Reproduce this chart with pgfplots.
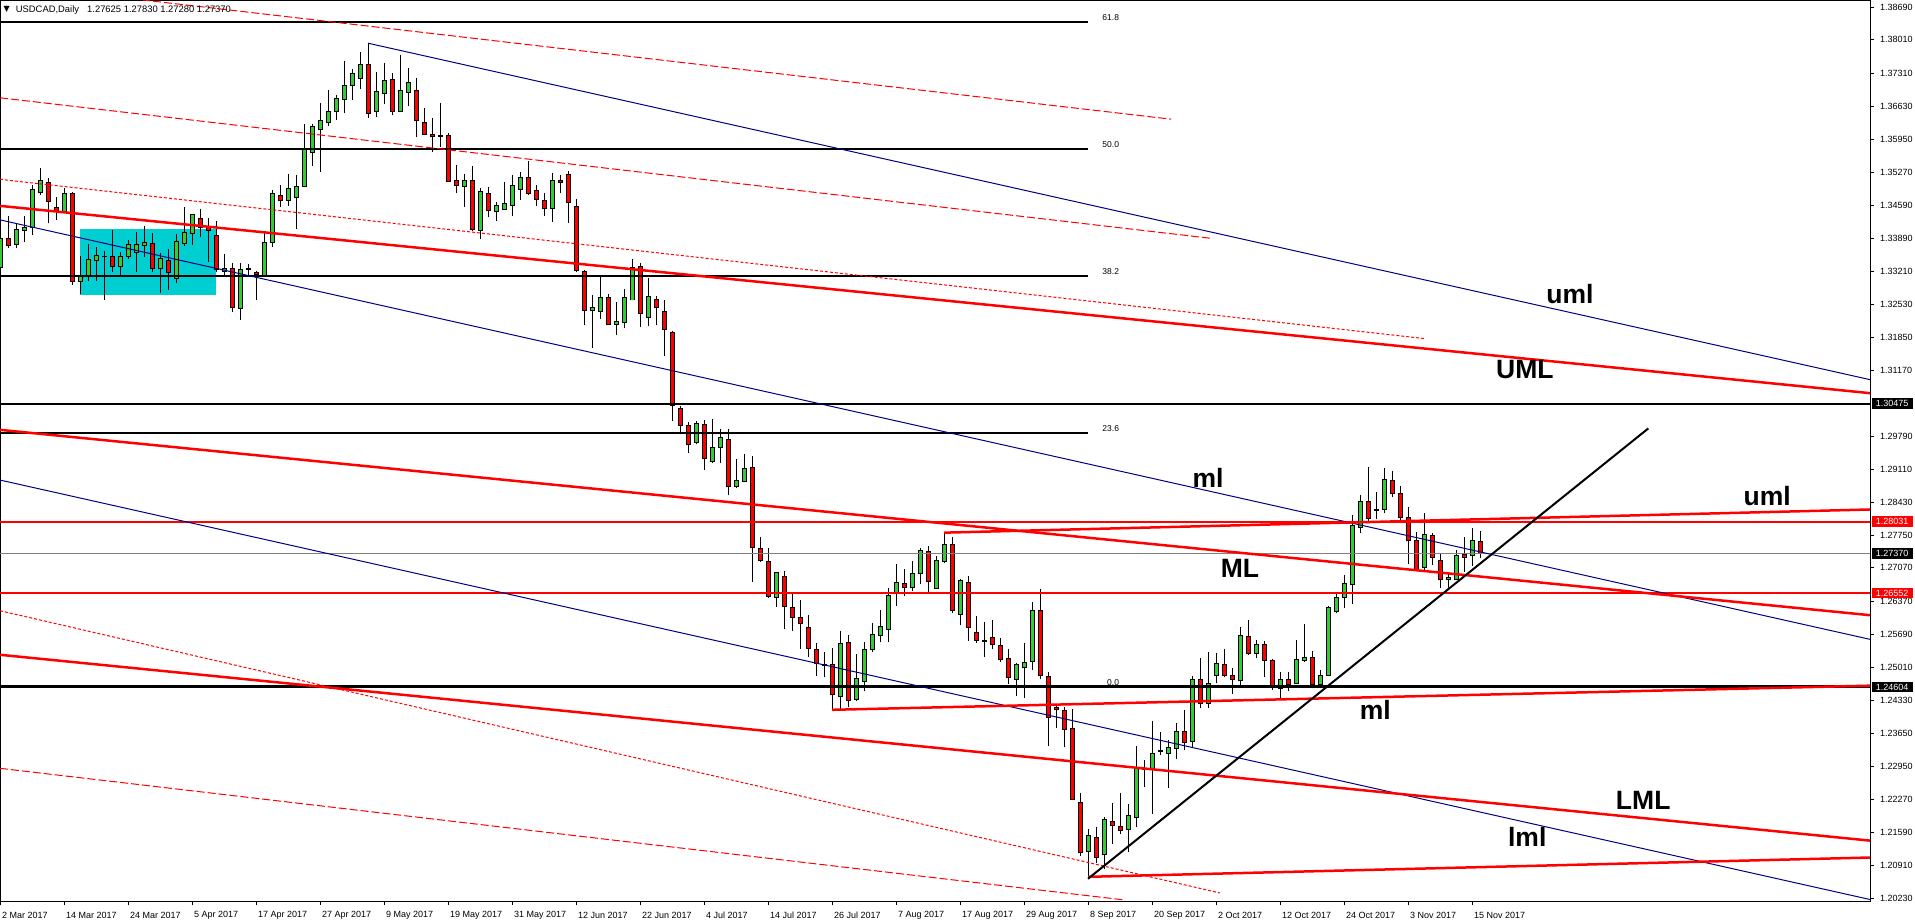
\documentclass[border=0pt]{standalone}
\usepackage{fontspec}
\setmainfont{Liberation Sans}
\newfontfamily\dejavu{DejaVu Sans}
\usepackage{pgfplots}
\usepackage{pgfplotstable}
\pgfplotsset{compat=1.18}
\definecolor{cgreen}{RGB}{50,205,50}
\definecolor{cred}{RGB}{255,0,0}
\definecolor{cnavy}{RGB}{0,0,128}
\definecolor{ccyan}{RGB}{0,206,209}
\definecolor{cgray}{RGB}{128,128,128}

\pgfplotstableread{
x o h l c
0 1.3329 1.3404 1.3326 1.3390
2 1.3377 1.3419 1.3369 1.3408
3 1.3406 1.3436 1.3383 1.3413
4 1.3413 1.3500 1.3397 1.3491
5 1.3484 1.3535 1.3480 1.3510
8 1.3446 1.3495 1.3445 1.3482
10 1.3301 1.3353 1.3274 1.3313
11 1.3312 1.3377 1.3302 1.3345
12 1.3344 1.3371 1.3302 1.3355
15 1.3331 1.3362 1.3314 1.3353
16 1.3352 1.3386 1.3346 1.3377
17 1.3361 1.3402 1.3321 1.3377
18 1.3375 1.3415 1.3352 1.3381
20 1.3328 1.3359 1.3277 1.3347
22 1.3307 1.3399 1.3297 1.3384
23 1.3379 1.3454 1.3373 1.3402
24 1.3400 1.3440 1.3376 1.3439
28 1.3322 1.3357 1.3310 1.3328
30 1.3245 1.3338 1.3221 1.3326
33 1.3312 1.3400 1.3310 1.3381
34 1.3381 1.3489 1.3372 1.3483
36 1.3468 1.3524 1.3457 1.3493
37 1.3475 1.3521 1.3410 1.3497
38 1.3497 1.3627 1.3496 1.3573
39 1.3568 1.3627 1.3540 1.3622
40 1.3616 1.3671 1.3528 1.3634
41 1.3630 1.3697 1.3622 1.3653
42 1.3653 1.3687 1.3635 1.3680
43 1.3678 1.3757 1.3649 1.3707
44 1.3707 1.3740 1.3676 1.3732
45 1.3721 1.3775 1.3700 1.3750
47 1.3653 1.3734 1.3642 1.3693
48 1.3690 1.3752 1.3668 1.3717
50 1.3653 1.3769 1.3652 1.3696
51 1.3692 1.3742 1.3664 1.3712
58 1.3497 1.3524 1.3455 1.3510
60 1.3406 1.3495 1.3388 1.3487
62 1.3445 1.3466 1.3426 1.3457
63 1.3450 1.3506 1.3449 1.3461
64 1.3457 1.3521 1.3435 1.3500
65 1.3491 1.3528 1.3469 1.3516
69 1.3451 1.3526 1.3424 1.3510
74 1.3241 1.3272 1.3163 1.3247
75 1.3238 1.3310 1.3223 1.3268
77 1.3211 1.3258 1.3190 1.3218
78 1.3215 1.3285 1.3203 1.3268
79 1.3262 1.3347 1.3261 1.3330
81 1.3226 1.3308 1.3208 1.3270
87 1.2967 1.3011 1.2963 1.3006
89 1.2928 1.3015 1.2924 1.2957
90 1.2957 1.2994 1.2924 1.2977
92 1.2876 1.2932 1.2872 1.2888
93 1.2886 1.2943 1.2884 1.2913
97 1.2646 1.2699 1.2627 1.2697
105 1.2441 1.2576 1.2414 1.2551
107 1.2435 1.2529 1.2432 1.2478
108 1.2472 1.2553 1.2451 1.2538
109 1.2538 1.2592 1.2532 1.2569
110 1.2567 1.2619 1.2553 1.2586
111 1.2580 1.2666 1.2554 1.2650
112 1.2654 1.2715 1.2629 1.2677
114 1.2667 1.2721 1.2659 1.2696
115 1.2696 1.2748 1.2673 1.2743
117 1.2665 1.2732 1.2665 1.2723
118 1.2721 1.2780 1.2718 1.2756
120 1.2611 1.2685 1.2588 1.2681
127 1.2476 1.2509 1.2442 1.2507
128 1.2500 1.2551 1.2438 1.2511
129 1.2513 1.2636 1.2495 1.2619
136 1.2120 1.2167 1.2063 1.2152
138 1.2113 1.2190 1.2083 1.2185
141 1.2165 1.2218 1.2119 1.2194
142 1.2190 1.2337 1.2170 1.2292
144 1.2290 1.2390 1.2198 1.2323
146 1.2323 1.2350 1.2252 1.2335
147 1.2333 1.2385 1.2312 1.2368
149 1.2347 1.2483 1.2333 1.2476
151 1.2426 1.2533 1.2416 1.2468
152 1.2484 1.2530 1.2468 1.2509
155 1.2473 1.2584 1.2461 1.2567
157 1.2530 1.2558 1.2520 1.2549
160 1.2458 1.2491 1.2433 1.2475
162 1.2468 1.2558 1.2468 1.2518
163 1.2516 1.2591 1.2513 1.2522
165 1.2466 1.2496 1.2458 1.2484
166 1.2484 1.2629 1.2484 1.2625
167 1.2616 1.2653 1.2613 1.2646
168 1.2646 1.2692 1.2623 1.2675
169 1.2673 1.2817 1.2632 1.2795
170 1.2791 1.2858 1.2780 1.2845
173 1.2828 1.2913 1.2821 1.2891
178 1.2708 1.2821 1.2703 1.2777
181 1.2683 1.2696 1.2665 1.2688
182 1.2682 1.2744 1.2682 1.2732
184 1.2732 1.2789 1.2711 1.2764
}\tbull

\pgfplotstableread{
x o h l c
1 1.3390 1.3436 1.3370 1.3374
6 1.3506 1.3515 1.3421 1.3466
7 1.3454 1.3475 1.3428 1.3446
9 1.3482 1.3485 1.3294 1.3300
14 1.3353 1.3408 1.3319 1.3331
19 1.3379 1.3400 1.3321 1.3328
21 1.3344 1.3367 1.3283 1.3319
25 1.3431 1.3451 1.3393 1.3412
26 1.3413 1.3431 1.3341 1.3406
27 1.3396 1.3426 1.3321 1.3326
29 1.3328 1.3338 1.3238 1.3247
32 1.3319 1.3323 1.3261 1.3314
35 1.3479 1.3500 1.3455 1.3468
46 1.3750 1.3794 1.3640 1.3649
49 1.3719 1.3732 1.3645 1.3653
52 1.3696 1.3721 1.3600 1.3634
53 1.3630 1.3660 1.3604 1.3605
54 1.3605 1.3640 1.3569 1.3600
56 1.3603 1.3609 1.3507 1.3508
57 1.3510 1.3542 1.3484 1.3500
59 1.3510 1.3540 1.3404 1.3408
61 1.3483 1.3497 1.3433 1.3448
66 1.3516 1.3549 1.3480 1.3482
67 1.3489 1.3500 1.3457 1.3471
68 1.3469 1.3483 1.3436 1.3451
70 1.3510 1.3521 1.3484 1.3506
71 1.3522 1.3529 1.3422 1.3464
72 1.3456 1.3471 1.3319 1.3323
73 1.3321 1.3324 1.3210 1.3241
76 1.3268 1.3274 1.3210 1.3212
80 1.3332 1.3339 1.3207 1.3234
82 1.3263 1.3270 1.3210 1.3247
83 1.3239 1.3262 1.3146 1.3201
84 1.3194 1.3197 1.3012 1.3043
85 1.3038 1.3043 1.2984 1.3002
86 1.3002 1.3009 1.2946 1.2963
88 1.3004 1.3013 1.2910 1.2934
91 1.2973 1.2994 1.2858 1.2875
94 1.2915 1.2939 1.2678 1.2750
95 1.2748 1.2770 1.2720 1.2723
96 1.2721 1.2748 1.2644 1.2648
98 1.2690 1.2701 1.2580 1.2627
99 1.2625 1.2653 1.2577 1.2605
100 1.2605 1.2640 1.2540 1.2591
101 1.2584 1.2609 1.2522 1.2540
102 1.2538 1.2551 1.2484 1.2509
104 1.2507 1.2542 1.2414 1.2444
106 1.2553 1.2568 1.2418 1.2433
113 1.2675 1.2705 1.2649 1.2667
116 1.2741 1.2752 1.2652 1.2679
119 1.2756 1.2772 1.2613 1.2619
121 1.2677 1.2690 1.2556 1.2584
122 1.2574 1.2607 1.2552 1.2556
124 1.2563 1.2599 1.2540 1.2549
125 1.2547 1.2561 1.2513 1.2518
126 1.2519 1.2540 1.2466 1.2480
130 1.2619 1.2663 1.2476 1.2484
131 1.2482 1.2491 1.2339 1.2397
132 1.2418 1.2426 1.2375 1.2413
133 1.2412 1.2418 1.2335 1.2373
134 1.2375 1.2414 1.2226 1.2228
135 1.2221 1.2240 1.2110 1.2118
137 1.2149 1.2170 1.2096 1.2107
139 1.2182 1.2219 1.2135 1.2174
140 1.2172 1.2240 1.2156 1.2163
148 1.2368 1.2413 1.2330 1.2346
150 1.2476 1.2520 1.2416 1.2426
153 1.2507 1.2538 1.2480 1.2484
154 1.2485 1.2499 1.2446 1.2476
156 1.2565 1.2599 1.2527 1.2529
158 1.2549 1.2556 1.2482 1.2516
159 1.2516 1.2518 1.2455 1.2461
161 1.2475 1.2491 1.2451 1.2466
164 1.2522 1.2535 1.2458 1.2466
171 1.2845 1.2915 1.2803 1.2809
174 1.2888 1.2908 1.2853 1.2862
175 1.2862 1.2877 1.2799 1.2812
176 1.2812 1.2834 1.2715 1.2763
177 1.2763 1.2782 1.2703 1.2704
179 1.2774 1.2779 1.2714 1.2728
180 1.2722 1.2737 1.2666 1.2682
183 1.2734 1.2772 1.2699 1.2729
185 1.27625 1.27830 1.27280 1.27370
}\tbear

\pgfplotstableread{
x o h l c
13 1.3352 1.3364 1.3263 1.3353
31 1.3327 1.3337 1.3312 1.3326
55 1.3602 1.3670 1.3580 1.3601
103 1.2507 1.2533 1.2480 1.2505
123 1.2556 1.2594 1.2523 1.2555
143 1.2292 1.2309 1.2254 1.2290
145 1.2328 1.2368 1.2319 1.2326
172 1.2828 1.2864 1.2809 1.2826
}\tdoji

\pgfplotsset{
  ebase/.style={only marks, mark=*, mark size=0pt, mark options={draw=none, fill=none}, forget plot,
    error bars/y dir=plus, error bars/y explicit, error bars/error mark=none},
  wick/.style={ebase, error bars/error bar style={draw=black, line width=1pt}},
  bodyk/.style={ebase, error bars/error bar style={draw=black, line width=5pt}},
  bodyc/.style={ebase, error bars/error bar style={draw=#1, line width=3pt}},
}
\newcommand{\candles}[2]{%
  \addplot [wick] table [x=x, y=l, y error plus expr={\thisrow{h}-\thisrow{l}}] {#1};
  \addplot [bodyk] table [x=x, y expr={min(\thisrow{o},\thisrow{c})-0.0001},
     y error plus expr={abs(\thisrow{c}-\thisrow{o})+0.0002}] {#1};
  \ifx&#2&\else
  \addplot [bodyc=#2] table [x=x, y expr={min(\thisrow{o},\thisrow{c})+0.0001},
     y error plus expr={abs(\thisrow{c}-\thisrow{o})-0.0002}] {#1};
  \fi
}

\begin{document}
\begin{tikzpicture}
\useasboundingbox (0pt,0pt) rectangle (1915pt,-921pt);
\begin{axis}[
  at={(0pt,0pt)}, anchor=north west,
  scale only axis, width=1870pt, height=901pt,
  xmin=0, xmax=233.75, ymin=1.20169, ymax=1.38835,
  clip mode=individual,
  axis line style={black, line width=1pt},
  tick align=outside, major tick length=4pt,
  tick style={black, line width=0.8pt},
  xtick pos=left, ytick pos=right, yticklabel pos=right,
  xtick={0,8,...,184},
  xticklabels={2 Mar 2017,14 Mar 2017,24 Mar 2017,5 Apr 2017,17 Apr 2017,27 Apr 2017,9 May 2017,19 May 2017,31 May 2017,12 Jun 2017,22 Jun 2017,4 Jul 2017,14 Jul 2017,26 Jul 2017,7 Aug 2017,17 Aug 2017,29 Aug 2017,8 Sep 2017,20 Sep 2017,2 Oct 2017,12 Oct 2017,24 Oct 2017,3 Nov 2017,15 Nov 2017},
  ytick={1.20230,1.20910,1.21590,1.22270,1.22950,1.23650,1.24330,1.25010,1.25690,1.26370,1.27070,1.27750,1.28430,1.29110,1.29790,1.31170,1.31850,1.32530,1.33210,1.33890,1.34590,1.35270,1.35950,1.36630,1.37310,1.38010,1.38690},
  yticklabels={1.20230,1.20910,1.21590,1.22270,1.22950,1.23650,1.24330,1.25010,1.25690,1.26370,1.27070,1.27750,1.28430,1.29110,1.29790,1.31170,1.31850,1.32530,1.33210,1.33890,1.34590,1.35270,1.35950,1.36630,1.37310,1.38010,1.38690},
  xticklabel style={anchor=west, inner sep=0pt, xshift=2pt, yshift=-10pt, font=\fontsize{9}{10}\selectfont},
  yticklabel style={anchor=west, inner sep=0pt, xshift=6pt, font=\fontsize{9}{10}\selectfont},
  scaled y ticks=false,
]
% background rectangle
\addplot [fill=ccyan, draw=none, forget plot] coordinates {(10,1.3272) (27,1.3272) (27,1.3409) (10,1.3409)} -- cycle;

% candles
\candles{\tbull}{cgreen}
\candles{\tbear}{cred}
\candles{\tdoji}{}

% horizontal levels
\addplot [cgray, line width=1pt] coordinates {(0,1.27370) (233.75,1.27370)};
\addplot [black, line width=2pt] coordinates {(0,1.30475) (233.75,1.30475)};
\addplot [black, line width=3pt] coordinates {(0,1.24604) (233.75,1.24604)};
\addplot [cred, line width=2pt] coordinates {(0,1.28031) (233.75,1.28031)};
\addplot [cred, line width=2pt] coordinates {(0,1.26552) (233.75,1.26552)};
% fibonacci levels
\addplot [black, line width=2pt] coordinates {(0,1.38379) (136,1.38379)};
\addplot [black, line width=2pt] coordinates {(0,1.35749) (136,1.35749)};
\addplot [black, line width=2pt] coordinates {(0,1.33119) (136,1.33119)};
\addplot [black, line width=2pt] coordinates {(0,1.29864) (136,1.29864)};

% blue channel
\addplot [cnavy, line width=1pt] coordinates {(46,1.3794) (233.75,1.3097)};
\addplot [cnavy, line width=1pt] coordinates {(0,1.3428) (233.75,1.2559)};
\addplot [cnavy, line width=1pt] coordinates {(0,1.2889) (233.75,1.2020)};

% dashed red lines
\addplot [cred, line width=1pt, dash pattern=on 8pt off 3pt] coordinates {(0,1.39179) (146.4,1.36366)};
\addplot [cred, line width=1pt, dash pattern=on 8pt off 3pt] coordinates {(0,1.36809) (151.25,1.3390)};
\addplot [cred, line width=1pt, dash pattern=on 3pt off 2pt] coordinates {(0,1.35120) (178,1.31822)};
\addplot [cred, line width=1pt, dash pattern=on 8pt off 3pt] coordinates {(0,1.22918) (140.6,1.2019)};
\addplot [cred, line width=1pt, dash pattern=on 3pt off 2pt] coordinates {(0,1.26183) (152.5,1.20335)};

% red pitchfork lines
\addplot [cred, line width=2.5pt] coordinates {(0,1.3457) (233.75,1.3069)};
\addplot [cred, line width=2.5pt] coordinates {(0,1.2993) (233.75,1.2609)};
\addplot [cred, line width=2.5pt] coordinates {(0,1.2527) (233.75,1.2142)};
\addplot [cred, line width=2.5pt] coordinates {(136,1.2067) (233.75,1.2107)};
\addplot [cred, line width=2.5pt] coordinates {(104,1.2413) (233.75,1.2463)};
\addplot [cred, line width=2.5pt] coordinates {(118,1.2780) (233.75,1.2828)};

% black trend line
\addplot [black, line width=2pt] coordinates {(136,1.2063) (206.04,1.2996)};

% fib labels
\tikzset{fiblbl/.style={anchor=south east, inner sep=0pt, yshift=1.5pt, font=\fontsize{8.5}{9}\selectfont}}
\node[fiblbl] at (axis cs:139.9,1.38379) {61.8};
\node[fiblbl] at (axis cs:139.9,1.35749) {50.0};
\node[fiblbl] at (axis cs:139.9,1.33119) {38.2};
\node[fiblbl] at (axis cs:139.9,1.29864) {23.6};
\node[fiblbl] at (axis cs:139.9,1.24604) {0.0};

% object labels
\tikzset{objlbl/.style={inner sep=0pt, font=\fontsize{26.5}{30}\selectfont\bfseries}}
\node[objlbl] at (axis cs:196.25,1.32734) {uml};
\node[objlbl] at (axis cs:190.6,1.3118) {UML};
\node[objlbl] at (axis cs:151,1.28932) {ml};
\node[objlbl] at (axis cs:155,1.27068) {ML};
\node[objlbl] at (axis cs:220.9,1.28549) {uml};
\node[objlbl] at (axis cs:171.9,1.24126) {ml};
\node[objlbl] at (axis cs:205.4,1.22262) {LML};
\node[objlbl] at (axis cs:190.9,1.21505) {lml};

% price boxes
\tikzset{pbox/.style={anchor=west, inner sep=0pt, minimum width=41pt, minimum height=10.5pt, xshift=1.5pt, text=white, font=\fontsize{9}{10}\selectfont}}
\node[pbox, fill=black] at (axis cs:233.75,1.30475) {1.30475};
\node[pbox, fill=cred] at (axis cs:233.75,1.28031) {1.28031};
\node[pbox, fill=black] at (axis cs:233.75,1.27370) {1.27370};
\node[pbox, fill=cred] at (axis cs:233.75,1.26552) {1.26552};
\node[pbox, fill=black] at (axis cs:233.75,1.24604) {1.24604};
\end{axis}
% header
\node[anchor=center, inner sep=0pt, font=\dejavu\fontsize{8}{9}\selectfont] at (6.7pt,-9pt) {▼};
\node[anchor=base west, inner sep=0pt, font=\fontsize{9.4}{10}\selectfont] at (15.7pt,-12.3pt) {USDCAD,Daily};
\node[anchor=base west, inner sep=0pt, font=\fontsize{9.4}{10}\selectfont] at (87pt,-12.3pt) {1.27625 1.27830 1.27280 1.27370};
\end{tikzpicture}
\end{document}
